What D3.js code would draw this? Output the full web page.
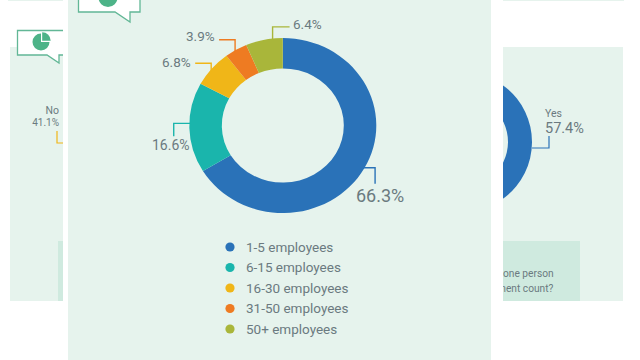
<!DOCTYPE html>
<html>
<head>
<meta charset="utf-8">
<script src="https://cdn.jsdelivr.net/npm/d3@7"></script>
<style>
  html, body { margin: 0; padding: 0; background: #fff; }
  svg { display: block; }
  text { font-family: Roboto, sans-serif; fill: #6b7a80; }
</style>
</head>
<body>
<script>
// front chart data
const categories = ["1-5 employees", "6-15 employees", "16-30 employees", "31-50 employees", "50+ employees"];
const shares = [66.3, 16.6, 6.8, 3.9, 6.4];
const shareLabels = ["66.3%", "16.6%", "6.8%", "3.9%", "6.4%"];
const colors = ["#2a72b8", "#1ab5ac", "#f0b618", "#ee7b22", "#a9b63a"];

// chart behind it, mostly covered
const backCategories = ["Yes", "No", "Other"];
const backShares = [57.4, 41.1, 1.5];
const backColors = ["#2a72b8", "#f0b618", "#c9d3d0"];

const width = 640, height = 360;
const panel = "#e6f3ed", noteBox = "#cfeadf", iconGreen = "#4db388", bubbleLine = "#62b796";

const svg = d3.select("body").append("svg")
    .attr("width", width)
    .attr("height", height);

// ---- back card ----
svg.append("rect").attr("x", 10).attr("y", 47).attr("width", 613).attr("height", 254).attr("fill", panel);
svg.append("rect").attr("x", 8).attr("y", 0).attr("width", 616).attr("height", 1).attr("fill", panel);
svg.append("rect").attr("x", 58).attr("y", 241).attr("width", 522).attr("height", 60).attr("fill", noteBox);

const backPie = d3.pie().sort(null).value(d => d)(backShares);
const backArc = d3.arc().innerRadius(46).outerRadius(70);
const back = svg.append("g").attr("transform", "translate(462,142)");
back.selectAll("path")
    .data(backPie)
    .enter()
    .append("path")
    .attr("d", backArc)
    .attr("fill", (d, i) => backColors[i]);

svg.append("path")
    .attr("d", "M532,148H549V136")
    .attr("fill", "none").attr("stroke", "#2a72b8").attr("stroke-width", 1.2);
svg.append("path")
    .attr("d", "M64,143H57V131")
    .attr("fill", "none").attr("stroke", "#f0b618").attr("stroke-width", 1.2);

svg.append("text").attr("x", 545).attr("y", 117).attr("font-size", 10.5).text(backCategories[0]);
svg.append("text").attr("x", 545).attr("y", 133).attr("font-size", 14.5).text(backShares[0] + "%");
svg.append("text").attr("x", 59).attr("y", 114).attr("text-anchor", "end").attr("font-size", 10.5).text(backCategories[1]);
svg.append("text").attr("x", 59).attr("y", 126).attr("text-anchor", "end").attr("font-size", 10).text(backShares[1] + "%");

svg.append("text").attr("x", 503).attr("y", 277).attr("font-size", 10.2).text("one person");
svg.append("text").attr("x", 497).attr("y", 292).attr("font-size", 10.2).text("ment count?");

drawBubble("M63,30.5H17.5V55H47L59,63V55H63", 41, 42, 8.5);

// ---- front card ----
svg.append("rect").attr("x", 63).attr("y", 0).attr("width", 440).attr("height", height).attr("fill", "#fff");
svg.append("rect").attr("x", 68).attr("y", 0).attr("width", 423).attr("height", height).attr("fill", panel);

drawBubble("M78.5,-5V12H115L130,22V12H140V-5", 108, -2.5, 9.5);

// ring is a bit wider than tall in the picture
const cx = 282.8, cy = 125.5, rx = 93.5, ry = 87.5;
const pieData = d3.pie().sort(null).value(d => d)(shares);
const arc = d3.arc().innerRadius(61).outerRadius(rx);

svg.append("g")
    .attr("transform", `translate(${cx},${cy}) scale(1,${ry / rx})`)
    .selectAll("path")
    .data(pieData)
    .enter()
    .append("path")
    .attr("d", arc)
    .attr("fill", (d, i) => colors[i]);

// leader lines: start on the slice, go dx or dy, then turn towards the label
const leaders = [
    { shift: 0,     first: "h", a: 12,  b: 16,  tx: 356, ty: 202, size: 18,  anchor: "start" },
    { shift: 0.05,  first: "h", a: -17, b: 13,  tx: 152, ty: 150, size: 14,  anchor: "start" },
    { shift: -0.03, first: "v", a: -8,  b: -16, tx: 162, ty: 67,  size: 13.5, anchor: "start" },
    { shift: -0.02, first: "v", a: -12, b: -16, tx: 186, ty: 41,  size: 13.5, anchor: "start" },
    { shift: 0.09,  first: "v", a: -13, b: 17,  tx: 293, ty: 29,  size: 13.5, anchor: "start" }
];

pieData.forEach((d, i) => {
    const l = leaders[i];
    const mid = (d.startAngle + d.endAngle) / 2 + l.shift;
    const x0 = cx + Math.sin(mid) * rx * 0.985;
    const y0 = cy - Math.cos(mid) * ry * 0.985;
    const path = d3.path();
    path.moveTo(x0, y0);
    if (l.first === "h") {
        path.lineTo(x0 + l.a, y0);
        path.lineTo(x0 + l.a, y0 + l.b);
    } else {
        path.lineTo(x0, y0 + l.a);
        path.lineTo(x0 + l.b, y0 + l.a);
    }
    svg.append("path")
        .attr("d", path.toString())
        .attr("fill", "none")
        .attr("stroke", colors[i])
        .attr("stroke-width", 1.4);
    svg.append("text")
        .attr("x", l.tx)
        .attr("y", l.ty)
        .attr("font-size", l.size)
        .attr("text-anchor", l.anchor)
        .text(shareLabels[i]);
});

// legend
const legendY = d3.scalePoint().domain(categories).range([247, 329]);
const legend = svg.selectAll(".legend")
    .data(categories)
    .enter()
    .append("g")
    .attr("class", "legend")
    .attr("transform", d => `translate(230,${legendY(d)})`);
legend.append("circle")
    .attr("r", 4.6)
    .attr("fill", (d, i) => colors[i]);
legend.append("text")
    .attr("x", 16)
    .attr("y", 4.5)
    .attr("font-size", 13.5)
    .text(d => d);

function drawBubble(outline, ix, iy, r) {
    svg.append("path")
        .attr("d", outline + "Z")
        .attr("fill", "#fff")
        .attr("stroke", "none");
    svg.append("path")
        .attr("d", outline)
        .attr("fill", "none")
        .attr("stroke", bubbleLine)
        .attr("stroke-width", 1.3);
    const icon = svg.append("g").attr("transform", `translate(${ix},${iy})`);
    icon.append("path")
        .attr("d", d3.arc().innerRadius(0).outerRadius(r)({ startAngle: Math.PI / 2, endAngle: Math.PI * 2 }))
        .attr("fill", iconGreen);
    icon.append("path")
        .attr("transform", "translate(1.2,-1.2)")
        .attr("d", d3.arc().innerRadius(0).outerRadius(r)({ startAngle: 0, endAngle: Math.PI / 2 }))
        .attr("fill", iconGreen);
}
</script>
</body>
</html>
